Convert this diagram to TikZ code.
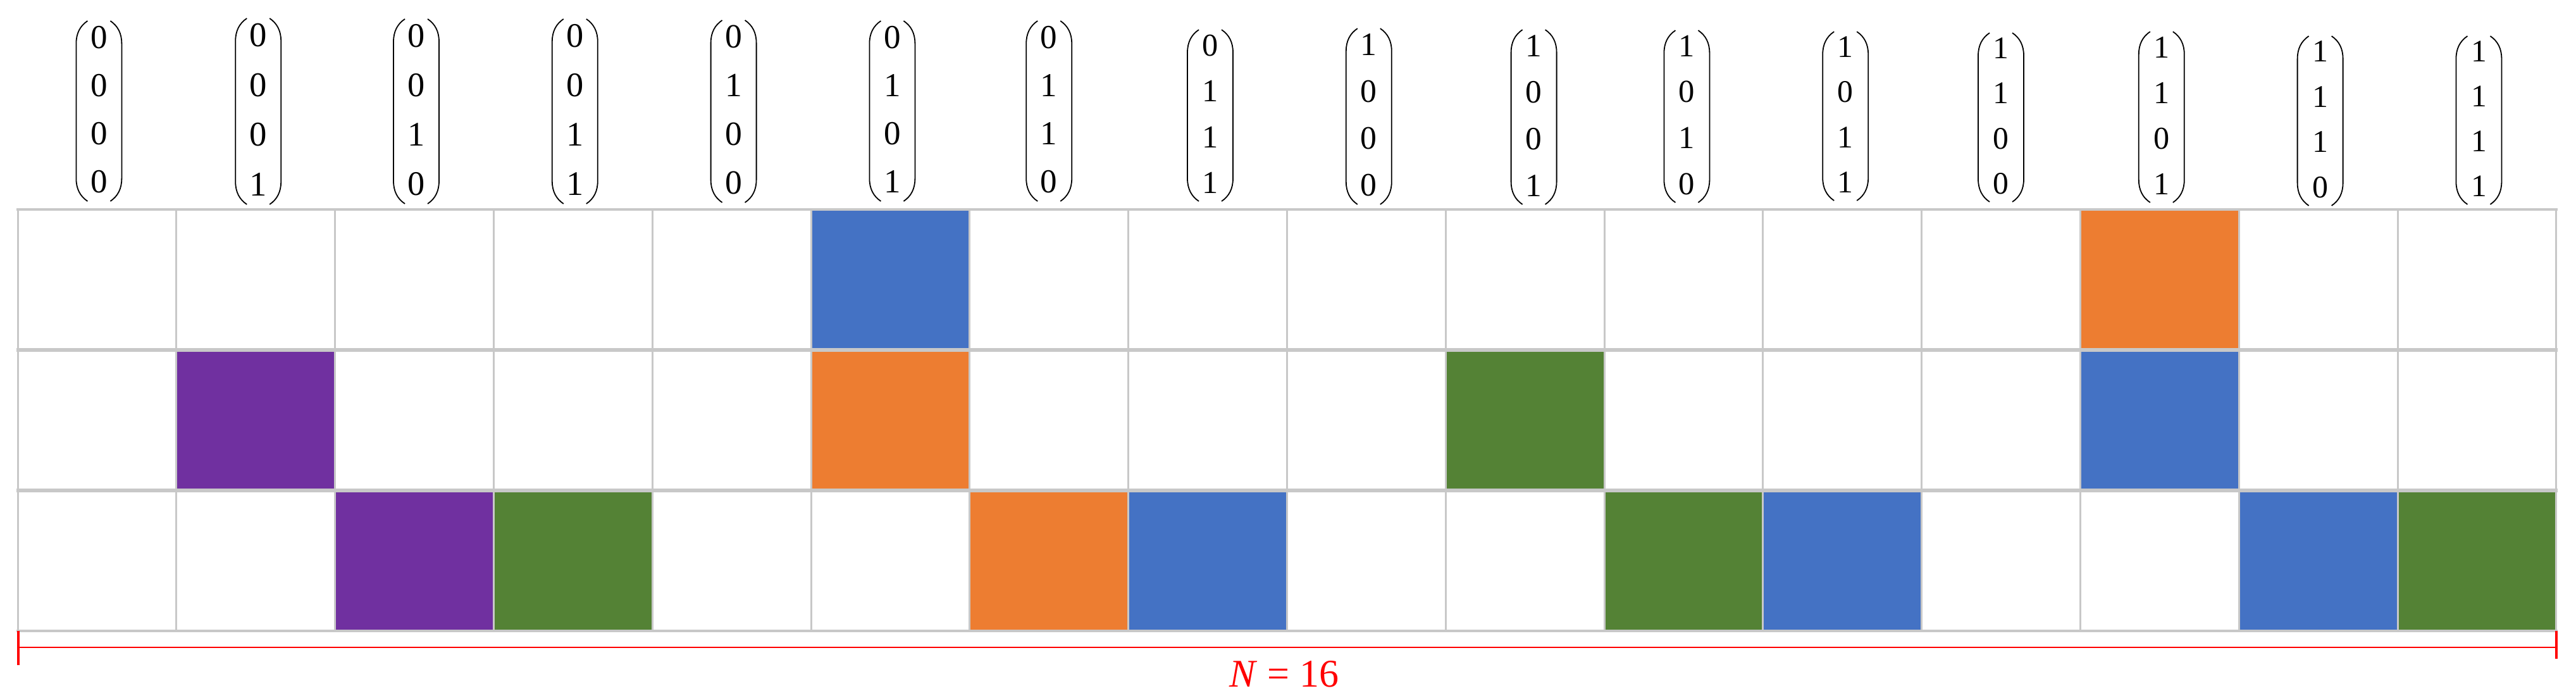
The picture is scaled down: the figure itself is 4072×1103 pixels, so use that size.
\documentclass[tikz,border=0pt]{standalone}
\usepackage{fontspec}
\setmainfont{Liberation Serif}
\definecolor{gridgray}{RGB}{200,200,200}
\definecolor{cblue}{RGB}{68,114,196}
\definecolor{corange}{RGB}{237,125,49}
\definecolor{cgreen}{RGB}{84,130,53}
\definecolor{cpurple}{RGB}{112,48,160}
\tikzset{
  digit/.style={inner sep=0pt, anchor=center, text=black},
  parenline/.style={draw=black, line width=1.8pt},
  gridv/.style={draw=gridgray, line width=3pt},
  gridh/.style={draw=gridgray, line width=6pt},
  gridouter/.style={draw=gridgray, line width=4pt},
  redline/.style={draw=red, line width=2.7pt},
  redtick/.style={draw=red, line width=3.3pt},
}
\newcommand\bitcol[8]{%
  \pgfmathsetmacro\cx{28+250.8*(#1-0.5)+#4}%
  \pgfmathsetmacro\hh{#3-#2}%
  \pgfmathsetmacro\fs{0.186*\hh}%
  \foreach \k/\v in {0/#5,1/#6,2/#7,3/#8}{%
    \node[digit, font=\fontsize{\fs pt}{\fs pt}\selectfont] (d#1-\k) at (\cx, {#2+\hh*(0.091+0.267*\k)}) {\v};
  }
  \draw[parenline] (\cx-18,#2) .. controls (\cx-30,#2+8) and (\cx-36,#2+20) .. (\cx-36,#2+36)
     -- (\cx-36,#3-36) .. controls (\cx-36,#3-20) and (\cx-30,#3-8) .. (\cx-18,#3);
  \draw[parenline] (\cx+18,#2) .. controls (\cx+30,#2+8) and (\cx+36,#2+20) .. (\cx+36,#2+36)
     -- (\cx+36,#3-36) .. controls (\cx+36,#3-20) and (\cx+30,#3-8) .. (\cx+18,#3);
}
\newcommand\cellfill[3]{%
  \fill[#3] ({28+250.8*(#2-1)}, {\csname rowy\number\numexpr#1-1\relax\endcsname}) rectangle ({28+250.8*#2}, {\csname rowy#1\endcsname});
}
\expandafter\def\csname rowy0\endcsname{331}
\expandafter\def\csname rowy1\endcsname{553}
\expandafter\def\csname rowy2\endcsname{775}
\expandafter\def\csname rowy3\endcsname{997}
\begin{document}
\begin{tikzpicture}[x=1pt, y=-1pt]
\useasboundingbox (0,0) rectangle (4072,1103);
\fill[white] (0,0) rectangle (4072,1103);
% coloured cells
\cellfill{1}{6}{cblue}
\cellfill{1}{14}{corange}
\cellfill{2}{2}{cpurple}
\cellfill{2}{6}{corange}
\cellfill{2}{10}{cgreen}
\cellfill{2}{14}{cblue}
\cellfill{3}{3}{cpurple}
\cellfill{3}{4}{cgreen}
\cellfill{3}{7}{corange}
\cellfill{3}{8}{cblue}
\cellfill{3}{11}{cgreen}
\cellfill{3}{12}{cblue}
\cellfill{3}{15}{cblue}
\cellfill{3}{16}{cgreen}
% grid
\foreach \k in {0,...,16}{
  \draw[gridv] ({28+250.8*\k},331) -- ({28+250.8*\k},997);
}
\draw[gridouter] (26,331) -- (4043,331);
\draw[gridh] (26,553) -- (4043,553);
\draw[gridh] (26,775) -- (4043,775);
\draw[gridouter] (26,997) -- (4043,997);
% bit vectors
\bitcol{1}{33}{318}{3}{0}{0}{0}{0}
\bitcol{2}{29}{323}{4}{0}{0}{0}{1}
\bitcol{3}{30}{322}{3}{0}{0}{1}{0}
\bitcol{4}{30}{322}{3}{0}{0}{1}{1}
\bitcol{5}{32}{320}{3}{0}{1}{0}{0}
\bitcol{6}{33}{318}{3}{0}{1}{0}{1}
\bitcol{7}{33}{318}{0}{0}{1}{1}{0}
\bitcol{8}{47}{318}{4}{0}{1}{1}{1}
\bitcol{9}{45}{323}{4}{1}{0}{0}{0}
\bitcol{10}{47}{323}{14}{1}{0}{0}{1}
\bitcol{11}{48}{320}{5}{1}{0}{1}{0}
\bitcol{12}{50}{317}{5}{1}{0}{1}{1}
\bitcol{13}{52}{319}{0}{1}{1}{0}{0}
\bitcol{14}{50}{320}{3}{1}{1}{0}{1}
\bitcol{15}{57}{325}{3}{1}{1}{1}{0}
\bitcol{16}{57}{323}{3}{1}{1}{1}{1}
% N = 16 bracket
\coordinate (bl) at (29,1023);
\coordinate (br) at (4041,1023);
\coordinate (blt) at (29,997);
\coordinate (blb) at (29,1051);
\coordinate (brt) at (4041,997);
\coordinate (brb) at (4041,1041);
\draw[redline] (bl) -- (br);
\draw[redtick] (blt) -- (blb);
\draw[redtick] (brt) -- (brb);
\node[text=red, font=\fontsize{62pt}{62pt}\selectfont, anchor=base, inner sep=0pt] (lbl) at (2030,1085) {\textit{N} = 16};
\end{tikzpicture}
\end{document}
